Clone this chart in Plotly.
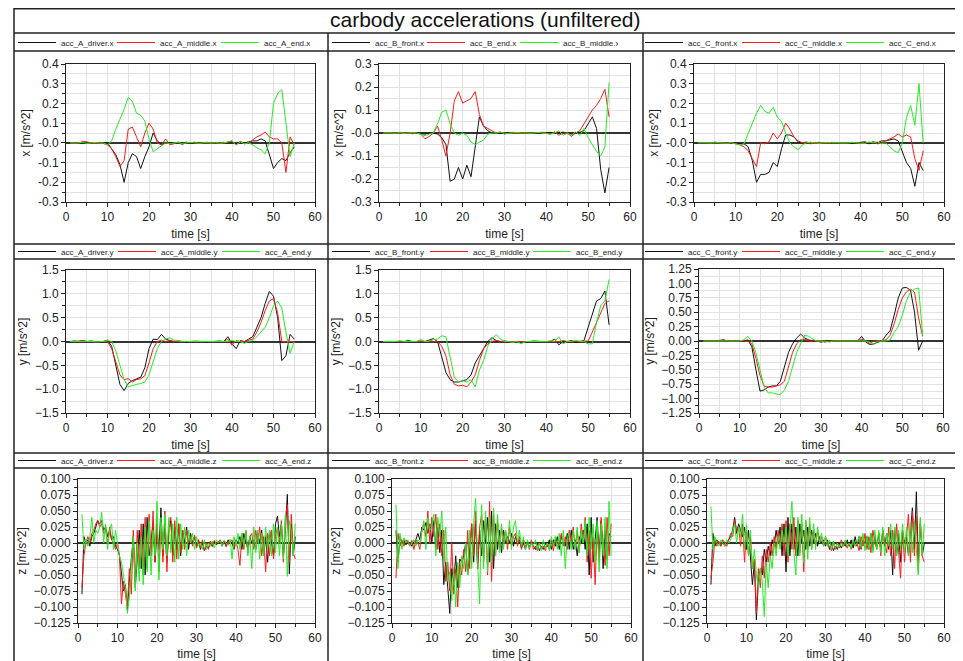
import plotly.graph_objects as go

# page is shown with the browser's default 8 px body margin -> figure drawn 8 px smaller
OFF = 8
W, H = 963 - OFF, 661 - OFF

# ---------------- time bases ----------------
T = list(range(1, 56))                 # 1 s samples (x / y channels) [s]
TZ = [i / 2 for i in range(2, 111)]    # 0.5 s samples (z channels) [s]

# ---------------- x accelerations ----------------
A_driver_x = [0, 0, 0.002, 0, 0.003, 0, 0.002, 0, 0.002,
              0.0, -0.03, -0.06, -0.11, -0.2, -0.1, -0.055, -0.07, -0.13, -0.07, -0.02, 0.05, 0.01, -0.01, 0.0,
              0.002, -0.003, 0.002, 0, 0.003, -0.002, 0, 0.002, -0.002, 0, 0.002, 0, -0.002, 0.003, 0, 0.005, -0.005, 0.004, 0.0, 0.005, 0.01,
              0.01, 0.02, 0.01, -0.06, -0.13, -0.1, -0.08, -0.09, -0.05, -0.02]
A_middle_x = [0, 0.002, -0.003, 0.008, 0.005, 0.0, -0.004, 0.003, -0.005,
              -0.01, -0.03, -0.07, -0.12, -0.09, 0.07, 0.08, 0.03, -0.02, 0.05, 0.1, 0.07, 0.0, -0.01, 0.02,
              -0.01, -0.005, 0.005, -0.01, 0.003, 0.0, 0.004, -0.003, 0.0, 0.003, -0.002, 0.002, 0.0, -0.003, 0.005, 0.006, -0.01, 0.008, -0.005, 0.0, 0.015,
              0.03, 0.04, 0.055, 0.03, 0.02, 0.02, 0.0, -0.15, 0.03, -0.01]
A_end_x = [0, -0.002, 0.0, 0.003, -0.003, 0.0, 0.002, -0.002, 0.0,
           -0.01, 0.01, 0.07, 0.12, 0.17, 0.23, 0.21, 0.15, 0.14, 0.11, 0.02, -0.045, -0.03, -0.015, 0.0,
           -0.005, 0.0, 0.003, -0.003, 0.0, 0.002, 0.0, -0.002, 0.0, 0.0, 0.002, 0.0, -0.002, 0.0, 0.004, 0.012, -0.012, 0.005, -0.005, 0.0, -0.01,
           -0.025, -0.035, -0.055, 0.0, 0.2, 0.25, 0.27, 0.1, -0.07, 0.0]

B_front_x = [0, 0, 0.002, 0, 0.003, 0.0, -0.002, 0.0, 0.002, -0.003, -0.005, 0.0, 0.0,
             -0.005, -0.02, -0.05, -0.21, -0.2, -0.15, -0.2, -0.14, -0.19, -0.06, 0.07, 0.03, 0.01, 0.0,
             0.002, -0.002, 0.0, 0.002, 0.0, -0.002, 0.0, 0.0, 0.002, 0.0, -0.002, 0.0, 0.0, 0.003, -0.003, 0.0, 0.004, 0.0, -0.005, 0.0, 0.003,
             0.01, 0.04, 0.07, 0.02, -0.16, -0.26, -0.15]
B_end_x = [0, 0.002, 0.0, -0.002, 0.003, 0.0, 0.0, -0.003, 0.0, -0.005,
           -0.025, -0.015, 0.0, 0.03, -0.03, -0.1, 0.0, 0.14, 0.18, 0.13, 0.14, 0.15, 0.18, 0.08, 0.03, 0.02, 0.01,
           0.0, 0.005, -0.005, 0.0, 0.003, -0.003, 0.0, 0.002, -0.002, 0.0, 0.0, 0.003, 0.0, -0.005, 0.005, -0.01, 0.0, 0.0,
           -0.015, 0.0, 0.01, 0.04, 0.07, 0.1, 0.12, 0.15, 0.19, 0.07]
B_middle_x = [0, 0.0, 0.002, 0.0, 0.0, -0.002, 0.0, 0.002, 0.0, -0.005,
              -0.012, -0.005, 0.0, 0.04, 0.09, 0.1, 0.04, 0.0, -0.01, 0.0, -0.01, -0.04, -0.05, -0.04, -0.03, -0.005, 0.0,
              0.0, 0.003, 0.0, -0.003, 0.0, 0.002, 0.0, 0.0, -0.002, 0.0, 0.002, 0.0, 0.0, -0.005, 0.0, 0.01, -0.01, 0.0,
              -0.01, 0.005, -0.01, 0.02, -0.02, -0.05, -0.08, -0.1, -0.06, 0.22]

C_front_x = [0, 0, 0.002, 0, 0.0, 0.002, 0.0, -0.002, 0.0, 0.0, -0.005, -0.005,
             -0.02, -0.09, -0.2, -0.16, -0.16, -0.15, -0.1, -0.12, -0.03, 0.04, 0.04, 0.03, 0.005, 0.0,
             0.0, 0.002, -0.002, 0.0, 0.002, 0.0, -0.002, 0.0, 0.0, 0.002, 0.0, -0.002, 0.0, 0.0, 0.005, -0.005, 0.005, 0.0,
             0.01, 0.01, 0.015, 0.02, 0.01, -0.05, -0.1, -0.13, -0.22, -0.1, -0.14]
C_middle_x = [0, 0.002, 0.0, -0.002, 0.004, 0.0, -0.003, 0.0, 0.002, -0.005,
              -0.01, -0.02, -0.04, -0.08, -0.12, 0.0, -0.005, 0.005, 0.05, 0.02, 0.05, 0.1, 0.07, 0.03, 0.01, 0.0,
              0.005, -0.005, 0.0, 0.003, 0.0, -0.003, 0.0, 0.002, 0.0, -0.002, 0.0, 0.003, 0.0, -0.004, 0.005, 0.0, 0.005, -0.005, 0.0,
              0.01, 0.02, 0.03, 0.045, 0.03, 0.04, 0.03, -0.08, -0.14, -0.04]
C_end_x = [0, 0.0, 0.002, 0.0, 0.0, 0.002, 0.0, -0.002, 0.0, -0.005, -0.01,
           -0.005, 0.05, 0.1, 0.15, 0.19, 0.16, 0.15, 0.18, 0.13, 0.11, 0.05, 0.0, -0.02, -0.035, -0.01,
           0.0, 0.003, 0.0, -0.003, 0.0, 0.002, 0.0, 0.0, -0.002, 0.0, 0.0, 0.002, 0.0, 0.0, -0.003, 0.005, 0.0, 0.005, -0.005, 0.0,
           -0.02, -0.04, -0.05, 0.0, 0.13, 0.19, 0.09, 0.3, 0.0]

# ---------------- y accelerations ----------------
A_driver_y = [0, 0.01, 0.0, 0.02, 0.0, 0.01, 0.0, -0.02, 0.0,
              0.03, -0.1, -0.5, -0.9, -1.03, -0.88, -0.82, -0.78, -0.75, -0.55, -0.15, 0.05, 0.04, 0.15, 0.05, 0.02,
              0.0, 0.01, 0.0, -0.01, 0.0, 0.0, 0.01, 0.0, -0.01, 0.0, 0.0, 0.01, 0.0, 0.1, -0.05, -0.15, 0.02, 0.0, 0.05,
              0.1, 0.3, 0.5, 0.8, 1.05, 0.95, 0.5, -0.4, -0.3, 0.15, 0.05]
A_middle_y = [0, 0.0, 0.01, 0.02, 0.0, 0.0, -0.01, 0.0, 0.0, 0.0,
              -0.15, -0.45, -0.7, -0.8, -0.78, -0.85, -0.8, -0.78, -0.72, -0.45, -0.15, 0.0, 0.03, 0.0, 0.02,
              0.0, 0.0, -0.01, 0.0, 0.0, 0.01, 0.0, 0.0, 0.0, -0.01, 0.0, 0.0, 0.0, 0.05, -0.08, 0.02, 0.0, 0.0, 0.02,
              0.05, 0.2, 0.4, 0.65, 0.85, 0.9, 0.6, 0.0, 0.0, 0.0, 0.0]
A_end_y = [0, 0.0, 0.0, 0.01, 0.0, 0.0, 0.0, -0.01, 0.0, 0.02, 0.0,
           -0.2, -0.5, -0.8, -0.95, -0.92, -0.9, -0.88, -0.85, -0.7, -0.4, -0.15, 0.0, 0.05, 0.08,
           0.03, 0.02, 0.0, 0.0, 0.0, 0.01, 0.0, 0.0, 0.0, 0.0, 0.01, 0.0, 0.0, 0.0, 0.02, 0.0, 0.0, -0.04, 0.0, 0.02,
           0.1, 0.2, 0.3, 0.5, 0.75, 0.85, 0.7, 0.2, -0.25, 0.0]

B_front_y = [0, 0.0, 0.0, 0.01, 0.0, 0.0, 0.02, 0.0, 0.0, 0.01, 0.0,
             0.03, 0.06, 0.0, -0.3, -0.65, -0.8, -0.85, -0.85, -0.83, -0.8, -0.7, -0.45, -0.3, -0.15, 0.0, 0.08, 0.02,
             0.0, 0.01, 0.0, 0.0, -0.01, 0.0, 0.0, 0.0, 0.01, 0.0, 0.0, 0.0, 0.0, 0.05, -0.07, 0.0, 0.0, 0.02, -0.02, 0.0,
             0.02, 0.3, 0.6, 0.85, 0.9, 1.06, 0.35]
B_middle_y = [0, 0.0, 0.0, 0.0, 0.01, 0.0, 0.0, 0.0, 0.0, 0.0, 0.0, 0.02, 0.0, 0.0,
              -0.1, -0.3, -0.7, -0.9, -0.93, -0.92, -0.95, -0.85, -0.7, -0.4, -0.15, -0.05, 0.0,
              0.02, 0.0, 0.0, 0.0, -0.01, 0.0, 0.0, 0.0, 0.0, 0.0, 0.0, 0.0, 0.0, 0.0, 0.0, 0.0, 0.02, 0.0, 0.0, 0.0, 0.0, 0.0, 0.01,
              0.2, 0.4, 0.6, 0.8, 0.85]
B_end_y = [0, 0.0, 0.0, 0.0, 0.02, 0.0, 0.0, 0.0, 0.0, 0.04, 0.0, 0.0, 0.04,
           0.05, 0.12, 0.1, -0.3, -0.75, -0.85, -0.82, -0.85, -0.8, -0.95, -0.6, -0.4, -0.1, 0.05, 0.15, 0.05,
           0.0, 0.0, -0.02, 0.0, -0.05, 0.0, 0.0, 0.0, 0.0, 0.0, 0.0, 0.02, 0.0, 0.1, -0.05, 0.0, 0.0, 0.03, 0.0, 0.0,
           -0.05, -0.05, 0.4, 0.75, 0.85, 1.3]

C_front_y = [0, 0.0, 0.0, 0.0, 0.01, 0.02, 0.0, 0.0, 0.01, 0.0, 0.0, 0.02,
             -0.1, -0.5, -0.87, -0.85, -0.8, -0.78, -0.78, -0.7, -0.45, -0.2, -0.05, 0.05, 0.12, 0.05, 0.02,
             0.0, 0.0, -0.02, 0.0, 0.0, 0.0, 0.0, 0.0, 0.0, 0.0, 0.0, 0.0, 0.08, -0.02, -0.06, -0.05, -0.02, 0.0,
             0.1, 0.18, 0.45, 0.75, 0.92, 0.93, 0.88, 0.5, -0.16, 0.0]
C_middle_y = [0, 0.0, 0.0, 0.0, 0.0, 0.02, 0.0, 0.0, 0.0, 0.01, 0.0, 0.0,
              -0.05, -0.3, -0.6, -0.78, -0.8, -0.8, -0.78, -0.76, -0.7, -0.45, -0.2, -0.05, 0.02, 0.03, 0.0,
              0.0, 0.0, 0.0, -0.02, 0.0, 0.0, 0.0, 0.0, 0.0, 0.0, 0.0, 0.0, 0.03, 0.0, -0.04, 0.0, 0.0, 0.0,
              0.02, 0.1, 0.3, 0.55, 0.75, 0.85, 0.9, 0.85, 0.4, 0.08]
C_end_y = [0, 0.0, 0.0, 0.0, 0.0, 0.0, 0.01, 0.0, 0.0, 0.0, 0.02,
           0.08, 0.0, -0.2, -0.5, -0.8, -0.9, -0.9, -0.92, -0.93, -0.85, -0.7, -0.45, -0.2, -0.05, 0.1, 0.08, 0.03,
           0.0, 0.0, 0.0, -0.02, 0.0, 0.0, 0.0, 0.0, 0.0, 0.0, 0.0, 0.0, 0.0, -0.02, -0.06, 0.0, 0.0, 0.0,
           0.02, 0.15, 0.25, 0.45, 0.7, 0.85, 0.9, 0.92, 0.1]

# ---------------- z accelerations (0.5 s samples) ----------------
A_driver_z = [-0.08, 0.01, 0.0, 0.005, -0.005, 0.01, 0.015, 0.025, 0.035, 0.03,
              0.035, 0.02, 0.025, 0.01, 0.02, 0.005, 0.01, -0.005, -0.01, -0.02,
              -0.05, -0.075, -0.065, -0.105, -0.06, -0.02, 0.01, -0.07, -0.03, 0.02,
              -0.04, 0.03, -0.05, 0.04, -0.02, 0.01, 0.03, -0.03, 0.02, -0.01,
              0.055, -0.02, 0.03, -0.03, 0.02, 0.035, -0.02, 0.025, -0.01, 0.03,
              -0.02, 0.02, 0.0, 0.025, -0.01, 0.015, 0.0, 0.01, -0.005, 0.005,
              -0.01, 0.0, -0.012, -0.005, -0.008, 0.0, -0.005, 0.003, -0.003, 0.0,
              0.002, -0.005, 0.003, -0.005, 0.005, 0.0, 0.0, -0.01, 0.005, 0.0,
              0.01, -0.01, 0.015, 0.0, -0.008, 0.01, 0.0, 0.005, -0.01, 0.015,
              0.0, 0.02, -0.02, 0.01, -0.03, 0.02, 0.0, -0.02, 0.03, 0.042,
              0.01, 0.03, -0.02, 0.02, 0.076, -0.048, 0.03, -0.02, 0.01]
A_middle_z = [-0.07, -0.02, 0.0, 0.01, 0.0, 0.015, 0.02, 0.03, 0.035, 0.025,
              0.03, 0.015, 0.02, 0.0, 0.025, 0.005, 0.0, -0.01, 0.0, -0.02,
              -0.095, -0.06, -0.08, -0.1, -0.04, -0.08, 0.02, -0.06, 0.02, -0.04,
              0.03, -0.05, 0.04, -0.04, 0.045, -0.02, 0.05, -0.03, 0.04, -0.045,
              0.03, -0.03, 0.05, -0.045, 0.03, 0.04, -0.03, 0.035, -0.025, 0.03,
              -0.015, 0.02, -0.01, 0.02, 0.0, 0.01, -0.005, 0.012, -0.008, 0.005,
              -0.008, 0.005, -0.012, 0.0, -0.01, 0.003, -0.006, 0.004, -0.002, 0.002,
              0.005, -0.003, 0.004, -0.006, 0.003, 0.0, 0.005, -0.008, 0.003, -0.01,
              -0.035, 0.015, -0.01, 0.02, -0.015, 0.01, 0.015, -0.01, 0.02, 0.0,
              0.025, -0.02, 0.01, -0.045, 0.015, -0.02, 0.02, -0.025, 0.01, 0.025,
              0.0, 0.035, -0.03, 0.04, 0.06, -0.03, 0.045, -0.015, -0.025]
A_end_z = [0.045, -0.01, 0.005, -0.005, 0.01, 0.04, 0.0, 0.02, 0.015, 0.025,
           0.048, 0.0, 0.03, -0.01, 0.02, 0.03, -0.01, 0.02, 0.0, -0.02,
           -0.03, -0.05, -0.07, -0.11, -0.085, -0.03, 0.01, -0.075, 0.0, -0.06,
           0.01, -0.065, 0.025, -0.045, 0.035, -0.05, 0.02, -0.02, 0.065, -0.058,
           0.04, -0.01, 0.045, -0.02, 0.04, -0.015, 0.03, -0.03, 0.04, -0.025,
           0.03, -0.01, 0.025, -0.02, 0.02, 0.0, 0.015, -0.01, 0.01, -0.005,
           0.0, -0.01, 0.005, -0.01, 0.0, -0.005, 0.003, -0.008, 0.005, 0.0,
           0.003, -0.005, 0.004, 0.0, -0.004, 0.006, -0.025, 0.01, -0.005, 0.015,
           -0.01, 0.015, -0.005, 0.02, -0.02, 0.01, -0.04, 0.025, -0.015, 0.02,
           -0.025, 0.015, -0.02, 0.025, -0.01, 0.02, -0.02, 0.03, -0.015, 0.025,
           -0.02, 0.03, -0.025, 0.045, -0.052, 0.035, 0.02, -0.02, 0.03]

B_front_z = [0.02, -0.03, 0.01, 0.0, 0.005, -0.003, 0.003, 0.0, -0.005, 0.002,
             0.005, 0.015, 0.005, 0.025, 0.02, 0.032, 0.015, 0.03, 0.0, 0.035,
             -0.01, 0.025, -0.015, 0.02, -0.065, -0.03, -0.07, -0.11, -0.04, -0.06,
             -0.02, -0.07, -0.025, -0.03, -0.02, 0.0, -0.05, -0.01, 0.03, -0.03,
             0.035, -0.04, 0.02, -0.02, 0.035, 0.0, 0.04, -0.03, 0.05, -0.04,
             0.03, -0.01, 0.02, -0.015, 0.02, 0.0, 0.01, 0.0, 0.015, -0.005,
             0.01, 0.0, 0.005, -0.008, 0.0, -0.01, 0.002, -0.006, 0.0, -0.005,
             -0.01, 0.0, -0.012, -0.005, -0.01, 0.0, -0.006, 0.005, -0.01, 0.005,
             -0.005, 0.01, -0.01, 0.01, 0.0, -0.005, 0.015, -0.01, 0.02, -0.01,
             0.005, -0.02, 0.01, 0.0, 0.02, -0.01, 0.03, -0.05, 0.04, -0.03,
             0.01, 0.04, -0.02, 0.035, -0.04, 0.02, -0.025, 0.015, 0.01]
B_middle_z = [-0.055, 0.015, -0.005, 0.005, -0.005, 0.005, 0.0, -0.005, 0.004, -0.01,
              0.005, 0.0, -0.01, 0.02, 0.03, 0.01, 0.05, 0.0, 0.04, 0.01,
              0.045, -0.01, 0.03, -0.02, 0.02, -0.06, -0.03, -0.075, 0.0, -0.08,
              -0.04, -0.1, -0.03, -0.05, -0.01, -0.045, 0.02, -0.04, 0.03, -0.02,
              0.05, -0.04, 0.025, 0.045, -0.03, 0.04, -0.05, 0.065, -0.06, 0.045,
              -0.02, 0.035, -0.01, 0.025, 0.0, 0.02, -0.01, 0.025, -0.005, 0.01,
              0.015, -0.005, 0.01, -0.01, 0.005, -0.005, 0.0, -0.01, 0.005, -0.01,
              -0.005, -0.012, 0.0, -0.008, -0.005, -0.012, 0.0, -0.01, 0.005, -0.012,
              0.005, -0.005, 0.0, 0.015, -0.005, 0.01, -0.01, 0.02, 0.0, 0.025,
              -0.01, 0.02, -0.015, 0.03, 0.0, 0.04, -0.03, 0.02, -0.055, 0.01,
              -0.065, 0.025, -0.03, 0.04, 0.0, -0.035, 0.04, -0.02, 0.03]
B_end_z = [0.06, -0.04, 0.015, -0.01, 0.008, 0.0, 0.005, -0.005, 0.0, 0.005,
           -0.005, 0.005, 0.0, 0.02, 0.035, -0.01, 0.04, 0.02, 0.025, 0.045,
           -0.02, 0.04, 0.01, 0.05, -0.03, 0.025, -0.06, -0.045, -0.09, -0.04,
           -0.1, -0.03, -0.07, -0.02, -0.04, 0.0, -0.05, 0.02, -0.04, 0.03,
           0.07, -0.03, -0.095, 0.06, -0.04, 0.05, -0.045, 0.04, -0.03, 0.055,
           -0.02, 0.045, -0.015, 0.03, -0.01, 0.02, 0.0, 0.035, -0.01, 0.025,
           0.035, 0.0, 0.02, -0.005, 0.01, -0.01, 0.005, -0.008, 0.0, -0.005,
           0.005, -0.01, 0.0, -0.012, 0.005, -0.008, 0.0, -0.012, 0.01, -0.005,
           0.01, -0.01, 0.015, -0.02, 0.02, -0.04, 0.01, 0.015, -0.01, 0.02,
           -0.01, 0.025, -0.015, 0.02, 0.0, 0.035, -0.02, 0.04, -0.01, 0.03,
           -0.03, 0.035, -0.045, 0.03, -0.02, 0.04, -0.04, 0.065, -0.02]

C_front_z = [-0.065, 0.015, -0.005, 0.005, 0.0, -0.005, 0.002, -0.005, 0.0, 0.005,
             0.01, 0.02, 0.04, 0.015, 0.03, 0.02, 0.01, 0.025, -0.01, 0.02,
             -0.02, -0.065, -0.03, -0.12, -0.06, -0.04, -0.05, -0.01, -0.03, -0.005,
             -0.02, 0.005, -0.005, 0.02, 0.0, 0.025, -0.02, 0.03, -0.045, 0.04,
             -0.02, 0.03, -0.01, 0.025, -0.02, 0.03, 0.0, 0.02, -0.01, 0.025,
             -0.005, 0.02, 0.0, 0.015, -0.005, 0.01, 0.0, 0.005, -0.005, 0.005,
             -0.01, 0.0, -0.012, -0.005, -0.01, 0.0, -0.008, 0.0, -0.005, 0.005,
             -0.005, 0.005, -0.008, 0.01, -0.005, 0.01, -0.01, 0.005, 0.0, 0.01,
             -0.01, 0.015, -0.01, 0.01, -0.005, 0.015, -0.01, 0.02, -0.005, 0.015,
             -0.01, 0.02, -0.05, 0.025, -0.02, 0.015, -0.03, 0.02, 0.0, 0.01,
             -0.02, 0.02, 0.055, -0.01, 0.08, -0.03, 0.03, -0.02, 0.0]
C_middle_z = [-0.055, -0.03, 0.005, -0.005, 0.003, -0.005, 0.005, 0.0, -0.005, 0.005,
              0.015, 0.01, 0.035, 0.02, 0.025, -0.005, 0.03, -0.03, 0.02, -0.02,
              0.01, -0.04, -0.025, -0.11, -0.04, -0.07, -0.02, -0.055, -0.01, -0.03,
              0.0, -0.02, 0.01, -0.01, 0.02, -0.005, 0.03, -0.02, 0.035, -0.03,
              0.03, -0.01, 0.04, -0.02, 0.035, -0.015, 0.03, -0.045, 0.035, -0.01,
              0.03, -0.01, 0.02, -0.005, 0.02, 0.0, 0.01, -0.005, 0.01, 0.0,
              -0.005, -0.012, 0.0, -0.01, 0.0, -0.008, 0.005, -0.005, 0.0, -0.008,
              0.0, -0.01, 0.005, -0.005, 0.0, -0.012, 0.01, -0.005, 0.015, -0.01,
              0.01, -0.015, 0.02, 0.0, -0.01, 0.015, -0.02, 0.02, 0.0, -0.015,
              0.025, -0.02, 0.02, -0.04, 0.03, -0.015, -0.055, 0.02, -0.03, 0.01,
              0.045, -0.03, 0.05, -0.02, 0.04, -0.045, 0.035, -0.02, -0.03]
C_end_z = [0.057, -0.01, 0.01, 0.0, -0.005, 0.005, 0.0, -0.005, 0.005, 0.0,
           0.005, 0.02, 0.03, 0.0, 0.025, 0.01, 0.045, -0.01, 0.03, -0.02,
           0.02, -0.04, -0.01, -0.05, -0.07, -0.04, -0.06, -0.115, -0.03, -0.07,
           -0.02, -0.04, 0.0, -0.02, 0.01, -0.01, 0.02, 0.0, 0.025, -0.02,
           0.03, 0.065, -0.015, -0.05, 0.04, -0.02, 0.045, -0.03, 0.035, -0.025,
           0.04, -0.01, 0.03, -0.01, 0.025, 0.0, 0.015, -0.005, 0.01, -0.005,
           0.005, -0.01, 0.003, -0.008, 0.0, -0.006, 0.0, -0.005, 0.005, -0.005,
           0.0, -0.008, 0.005, -0.005, 0.0, 0.01, -0.008, 0.015, -0.012, 0.01,
           -0.01, 0.015, -0.015, 0.02, -0.01, 0.02, -0.015, 0.025, -0.02, 0.015,
           -0.005, 0.03, -0.01, 0.025, -0.02, 0.02, -0.01, 0.03, -0.015, 0.025,
           -0.02, 0.03, -0.015, 0.035, -0.01, -0.05, 0.04, -0.02, 0.03]

# ---------------- tick labels ----------------
X_TICKS_VALS = [-0.3, -0.2, -0.1, 0.0, 0.1, 0.2, 0.3, 0.4]
X_TICKS_TEXT = ["-0.3", "-0.2", "-0.1", "-0.0", "0.1", "0.2", "0.3", "0.4"]
XB_TICKS_VALS = [-0.3, -0.2, -0.1, 0.0, 0.1, 0.2, 0.3]
XB_TICKS_TEXT = ["-0.3", "-0.2", "-0.1", "-0.0", "0.1", "0.2", "0.3"]

# ---------------- panel definitions ----------------
panels = [
    # row 1
    dict(t=T, series=[("acc_A_driver.x", A_driver_x), ("acc_A_middle.x", A_middle_x), ("acc_A_end.x", A_end_x)],
         ytitle="x [m/s^2]", yrange=[-0.3, 0.4], tickvals=X_TICKS_VALS, ticktext=X_TICKS_TEXT, minor=0.05),
    dict(t=T, series=[("acc_B_front.x", B_front_x), ("acc_B_end.x", B_end_x), ("acc_B_middle.x", B_middle_x)],
         ytitle="x [m/s^2]", yrange=[-0.3, 0.3], tickvals=XB_TICKS_VALS, ticktext=XB_TICKS_TEXT, minor=0.05),
    dict(t=T, series=[("acc_C_front.x", C_front_x), ("acc_C_middle.x", C_middle_x), ("acc_C_end.x", C_end_x)],
         ytitle="x [m/s^2]", yrange=[-0.3, 0.4], tickvals=X_TICKS_VALS, ticktext=X_TICKS_TEXT, minor=0.05),
    # row 2
    dict(t=T, series=[("acc_A_driver.y", A_driver_y), ("acc_A_middle.y", A_middle_y), ("acc_A_end.y", A_end_y)],
         ytitle="y [m/s^2]", yrange=[-1.5, 1.5], dtick=0.5, fmt=".1f", minor=0.25),
    dict(t=T, series=[("acc_B_front.y", B_front_y), ("acc_B_middle.y", B_middle_y), ("acc_B_end.y", B_end_y)],
         ytitle="y [m/s^2]", yrange=[-1.5, 1.5], dtick=0.5, fmt=".1f", minor=0.25),
    dict(t=T, series=[("acc_C_front.y", C_front_y), ("acc_C_middle.y", C_middle_y), ("acc_C_end.y", C_end_y)],
         ytitle="y [m/s^2]", yrange=[-1.25, 1.25], dtick=0.25, fmt=".2f", minor=0.125),
    # row 3
    dict(t=TZ, series=[("acc_A_driver.z", A_driver_z), ("acc_A_middle.z", A_middle_z), ("acc_A_end.z", A_end_z)],
         ytitle="z [m/s^2]", yrange=[-0.125, 0.1], dtick=0.025, fmt=".3f", minor=0.0125),
    dict(t=TZ, series=[("acc_B_front.z", B_front_z), ("acc_B_middle.z", B_middle_z), ("acc_B_end.z", B_end_z)],
         ytitle="z [m/s^2]", yrange=[-0.125, 0.1], dtick=0.025, fmt=".3f", minor=0.0125),
    dict(t=TZ, series=[("acc_C_front.z", C_front_z), ("acc_C_middle.z", C_middle_z), ("acc_C_end.z", C_end_z)],
         ytitle="z [m/s^2]", yrange=[-0.125, 0.1], dtick=0.025, fmt=".3f", minor=0.0125),
]

COLORS = ["#111111", "#ff1a1a", "#22ee22"]
FONT = "Liberation Sans, Arial, sans-serif"


def fx(px):
    return (px - OFF) / W


def fy(py):
    return 1 - (py - OFF) / H


# plot-area boxes in screen pixels (left, right, top, bottom)
BOXES = [
    (66, 315, 64, 202), (379, 630, 64, 202), (694, 944, 64, 202),
    (66, 315, 270, 413), (379, 630, 270, 413), (699, 943, 269, 413),
    (78, 315, 479, 623), (392, 631, 479, 623), (707, 944, 479, 623),
]
LEGEND_X = [13, 327, 640]            # legend box left (screen px)
LEGEND_Y = [42.5, 251.5, 460.5]      # legend row centre (screen px)
# legend entry widths per panel (spacing of the entries)
LEGEND_ITEM_W = [
    [46, 51, 50], [42, 40, 50], [44, 51, 50],
    [47, 51, 50], [45, 50, 50], [44, 51, 50],
    [46, 52, 50], [45, 50, 50], [44, 51, 50],
]

fig = go.Figure()
layout = dict(
    template="none",
    width=W, height=H, margin=dict(l=0, r=0, t=0, b=0, pad=0, autoexpand=False),
    paper_bgcolor="white", plot_bgcolor="white",
    font=dict(family=FONT, size=12, color="#222"),
    showlegend=True, hovermode=False,
)

for k, p in enumerate(panels):
    i = k + 1
    sfx = "" if i == 1 else str(i)
    lname = "legend" if i == 1 else f"legend{i}"
    row, colm = divmod(k, 3)
    for j, ((name, vals), col) in enumerate(zip(p["series"], COLORS)):
        fig.add_trace(go.Scatter(
            x=p["t"], y=vals, mode="lines", name=name,
            line=dict(color=col, width=1),
            xaxis=f"x{sfx}", yaxis=f"y{sfx}", legend=lname,
            legendwidth=LEGEND_ITEM_W[k][j],
        ))
    l, r, tp, bt = BOXES[k]
    xa = dict(
        domain=[fx(l), fx(r)], anchor=f"y{sfx}", range=[0, 60], automargin=False,
        tickmode="linear", tick0=0, dtick=10, ticks="outside", ticklen=4, tickcolor="#222",
        showline=True, linecolor="#222", linewidth=1, mirror=True,
        showgrid=True, gridcolor="#e2e2e2", gridwidth=1, zeroline=False,
        minor=dict(tickmode="linear", tick0=0, dtick=5, ticks="outside", ticklen=3,
                   tickcolor="#222", showgrid=True, gridcolor="#e2e2e2"),
        title=dict(text="time [s]", font=dict(size=12), standoff=6),
        tickfont=dict(size=12),
    )
    ya = dict(
        domain=[fy(bt), fy(tp)], anchor=f"x{sfx}", range=p["yrange"], automargin=False,
        ticks="outside", ticklen=4, tickcolor="#222",
        showline=True, linecolor="#222", linewidth=1, mirror=True,
        showgrid=True, gridcolor="#e2e2e2", gridwidth=1,
        zeroline=True, zerolinecolor="#333", zerolinewidth=2,
        minor=dict(tickmode="linear", tick0=0, dtick=p["minor"], ticks="outside", ticklen=3,
                   tickcolor="#222", showgrid=True, gridcolor="#e2e2e2"),
        title=dict(text=p["ytitle"], font=dict(size=12), standoff=4),
        tickfont=dict(size=12),
    )
    if "tickvals" in p:
        ya.update(tickmode="array", tickvals=p["tickvals"], ticktext=p["ticktext"])
    else:
        ya.update(tickmode="linear", tick0=p["yrange"][0], dtick=p["dtick"], tickformat=p["fmt"])
    layout[f"xaxis{sfx}"] = xa
    layout[f"yaxis{sfx}"] = ya
    layout[lname] = dict(
        x=fx(LEGEND_X[colm]), y=fy(LEGEND_Y[row]),
        xanchor="left", yanchor="middle", orientation="h",
        font=dict(size=8, family=FONT, color="#222"), bgcolor="rgba(0,0,0,0)",
        itemwidth=38, tracegroupgap=0, borderwidth=0,
    )

# frame lines (panel borders as in the reference)
frame = "#222"
shapes = [
    dict(type="rect", xref="paper", yref="paper", x0=fx(14), x1=fx(956), y0=fy(680), y1=1 - 0.75 / H,
         line=dict(color=frame, width=1.5)),
]
for yy in [33, 51, 244, 259, 453, 468]:
    shapes.append(dict(type="line", xref="paper", yref="paper", x0=fx(14), x1=fx(956),
                       y0=fy(yy), y1=fy(yy), line=dict(color=frame, width=1.5)))
for xx in [328, 643]:
    shapes.append(dict(type="line", xref="paper", yref="paper", x0=fx(xx), x1=fx(xx),
                       y0=fy(680), y1=fy(33), line=dict(color=frame, width=1.5)))
layout["shapes"] = shapes
layout["annotations"] = [dict(
    text="carbody accelerations (unfiltered)", xref="paper", yref="paper",
    x=fx(485), y=fy(20), xanchor="center", yanchor="middle", showarrow=False,
    font=dict(size=21, family=FONT, color="#111"),
)]

fig.update_layout(**layout)
fig.write_html("out.html")
